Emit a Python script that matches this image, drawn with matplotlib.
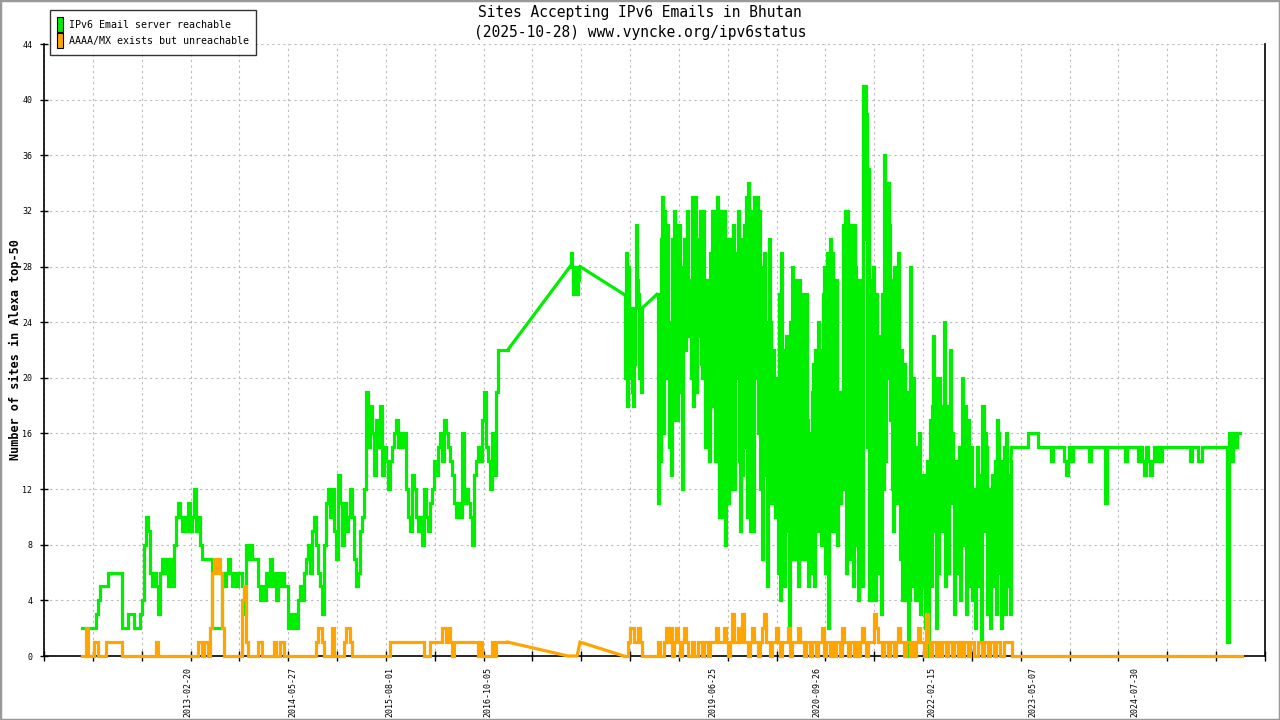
import numpy as np
import matplotlib
matplotlib.use("Agg")
import matplotlib.pyplot as plt
import matplotlib.dates as mdates
from matplotlib.patches import Patch, Rectangle

MONO = "DejaVu Sans Mono"
GREEN = "#00ee00"
ORANGE = "#ffa500"

# ---------------- data ----------------
# Green: "IPv6 Email server reachable" -- noisy segments, evenly sampled between start/end dates
g1_range = ("2011-11-10", "2016-12-31")
g1_vals = [2,2,2,2,2,2,2,3,4,5, 5,5,5,6,6,6,6,6,6,6, 2,2,2,3,3,3,2,2,2,3,
           4,8,10,9,6,5,6,5,3,6, 7,6,7,5,7,5,8,10,11,10, 9,10,9,11,9,10,12,9,10,8,
           7,7,7,7,7,2,2,2,2,2, 6,5,6,7,6,5,6,5,6,6, 5,3,8,7,8,7,7,7,5,4,
           5,4,6,5,7,5,6,4,6,5, 6,5,5,2,3,2,3,2,4,5, 4,6,7,8,6,9,10,8,6,5,
           3,8,11,12,10,12,9,7,13,11, 8,11,9,10,12,10,7,5,6,9, 10,12,19,15,18,16,13,17,15,18,
           13,15,14,12,14,15,16,17,15,16, 15,16,12,10,9,13,12,10,9,10, 8,12,10,9,11,12,14,13,15,16,
           14,17,16,15,14,13,11,10,11,10, 16,11,12,11,10,8,13,14,15,14, 17,19,15,14,12,16,13,19,22,22,
           22,22,22,22]
g2_range = ("2017-10-02", "2017-11-15")
g2_vals = [28,29,28,26,27,28,28,26,27,28,28]
g3_range = ("2018-05-28", "2018-08-15")
g3_vals = [26,20,29,18,28,25,20,25,19,18,21,25,31,27,26,20,25,19,25]
g4_range = ("2018-10-20", "2023-01-28")
g4_vals = [26,11,22,14,30,33,16,32,20,29, 31,20,15,24,13,30,21,32,17,31,
           17,24,31,19,24,12,28,30,22,30, 32,25,23,27,20,33,18,26,33,19,
           30,23,27,32,21,20,32,24,15,27, 16,27,14,29,18,32,18,29,14,32,
           33,27,10,22,32,10,27,32,8,28, 30,11,29,12,30,20,31,12,29,20,
           26,32,14,9,30,13,24,31,15,33, 10,34,22,9,32,17,9,33,20,24,
           33,16,32,12,28,7,25,29,13,24, 5,16,30,24,11,14,22,18,10,20,
           15,6,26,4,29,18,22,5,14,23, 9,20,1,24,7,28,12,7,27,14,
           22,5,27,20,7,26,24,11,7,26, 17,5,16,6,14,19,21,5,22,9,
           21,24,9,22,8,21,26,28,6,20, 29,2,16,30,9,29,26,9,19,27,
           8,18,19,11,17,19,31,12,32,6, 32,27,7,22,31,17,5,31,28,8,
           27,4,22,14,27,5,41,30,41,39, 15,35,4,27,4,20,28,16,4,26,
           18,6,23,9,3,26,12,36,14,34, 20,34,31,17,27,12,9,28,20,11,
           21,29,17,7,22,4,16,21,4,12, 19,0,4,28,5,18,20,11,4,15,
           4,12,16,3,6,13,5,13,2,13, 14,0,6,17,5,18,23,9,20,2,
           20,6,20,14,18,9,14,24,5,13, 18,6,12,22,11,16,14,3,12,14,
           6,11,15,4,13,20,8,16,18,3, 12,17,5,14,15,4,12,12,2,11,
           15,5,12,13,1,18,18,9,16,15, 3,12,12,2,9,13,5,11,14,3,
           17,16,6,14,2,12,8,15,3,16, 11,5,13,3,14]
# Green: change points after 2023 (step values)
g5_dates = ["2023-02-01","2023-04-12","2023-05-26","2023-07-23","2023-08-01","2023-09-18",
            "2023-09-27","2023-10-06","2023-10-10","2023-10-19","2023-10-28","2024-01-07",
            "2024-01-15","2024-03-17","2024-03-26","2024-06-13","2024-06-22","2024-08-10",
            "2024-08-18","2024-08-27","2024-09-05","2024-09-14","2024-09-23","2024-10-02",
            "2024-10-10","2024-10-19","2024-10-28","2024-11-06","2024-11-15","2024-11-23",
            "2025-03-27","2025-04-05","2025-05-01","2025-05-19","2025-09-06","2025-09-15",
            "2025-09-24","2025-10-03","2025-10-11","2025-10-20","2025-11-02"]
g5_vals = [15,16,15,14,15,14, 13,14,15,14,15,14, 15,11,15,14,15,14, 15,14,13,15,14,13,
           14,15,14,15,14,15, 14,15,14,15,1,16, 14,16,15,16,16]

# Orange: "AAAA/MX exists but unreachable"
o1_range = ("2011-11-10", "2016-12-31")
o1_vals = [0,0,2,0,0,0,1,1,0,0, 0,0,1,1,1,1,1,1,1,1, 0,0,0,0,0,0,0,0,0,0,
           0,0,0,0,0,0,0,1,0,0, 0,0,0,0,0,0,0,0,0,0, 0,0,0,0,0,0,0,0,1,1,
           0,1,1,0,2,6,7,6,7,6, 2,0,0,0,0,0,0,0,0,0, 4,5,1,0,0,0,0,0,1,1,
           0,0,0,0,0,0,1,0,0,1, 1,0,0,0,0,0,0,0,0,0, 0,0,0,0,0,0,0,1,2,2,
           1,0,0,0,0,2,0,0,0,0, 0,1,2,2,1,0,0,0,0,0, 0,0,0,0,0,0,0,0,0,0,
           0,0,0,0,1,1,1,1,1,1, 1,1,1,1,1,1,1,1,1,1, 1,0,0,0,1,1,1,1,1,1,
           2,2,1,2,1,0,1,1,1,1, 1,1,1,1,1,1,1,1,0,1, 0,0,0,0,0,1,0,1,1,1,
           1,1,1,1]
o_gap_dates = ["2016-12-31","2017-09-23","2017-11-02","2017-11-15","2018-05-28"]
o_gap_vals = [1,0,0,1,0]
o2_range = ("2018-05-28", "2023-02-01")
o2_vals = [0,0,1,2,2,1,1,2,1,0, 0,0,0,0,0,0,0,1,0,0, 1,2,1,2,0,1,2,1,0,1,
           2,1,0,0,1,0,0,1,1,0, 1,1,0,1,1,1,2,1,1,1, 2,1,0,1,3,1,1,2,1,3,
           1,1,0,1,2,1,1,0,1,2, 3,1,1,0,1,1,2,1,0,1, 1,1,2,0,1,1,1,2,1,1,
           0,1,1,0,1,1,0,1,1,2, 0,1,1,0,1,0,1,1,0,2, 1,1,0,1,1,0,1,0,1,2,
           1,0,1,1,1,3,2,1,1,0, 1,1,0,1,1,0,1,2,1,1, 0,1,1,0,1,0,1,2,1,1,
           0,3,1,0,1,1,0,1,0,1, 1,0,1,1,0,1,1,0,1,0, 1,1,0,1,1,0,0,1,1,0,
           1,1,0,1,1,0,1,1,0,0, 1,1,1,1,0]
o3_dates = ["2023-02-01", "2025-11-11"]
o3_vals = [0, 0]

x_label_dates = ["2013-02-20","2014-05-27","2015-08-01","2016-10-05","2019-06-25",
                 "2020-09-26","2022-02-15","2023-05-07","2024-07-30"]
x_limits = ("2011-05-27", "2026-02-22")

title_lines = ["Sites Accepting IPv6 Emails in Bhutan",
               "(2025-10-28) www.vyncke.org/ipv6status"]
y_label = "Number of sites in Alexa top-50"
legend_labels = ["IPv6 Email server reachable", "AAAA/MX exists but unreachable"]

# ---------------- helpers ----------------
d2n = mdates.datestr2num

def seg(rng, vals):
    return np.linspace(d2n(rng[0]), d2n(rng[1]), len(vals)), np.asarray(vals, float)

fig = plt.figure(figsize=(12.8, 7.2), dpi=100)
fig.patch.set_facecolor("white")
ax = fig.add_axes([44/1280, 64/720, (1265-44)/1280, (656-44)/720])

LW = 2.3
common = dict(lw=LW, clip_on=False, solid_joinstyle="miter")
# green segments
gsegs = [seg(g1_range, g1_vals), seg(g2_range, g2_vals), seg(g3_range, g3_vals),
         seg(g4_range, g4_vals),
         (np.array([d2n(d) for d in g5_dates]), np.asarray(g5_vals, float))]
for i, (x, y) in enumerate(gsegs):
    ax.plot(x, y, color=GREEN, drawstyle="steps-post", zorder=3, **common)
    if i + 1 < len(gsegs):
        nx, ny = gsegs[i + 1]
        ax.plot([x[-1], nx[0]], [y[-1], ny[0]], color=GREEN, zorder=3, **common)

# orange
ox1, oy1 = seg(o1_range, o1_vals)
ox2, oy2 = seg(o2_range, o2_vals)
ax.plot(ox1, oy1, color=ORANGE, drawstyle="steps-post", zorder=4, **common)
ax.plot([d2n(d) for d in o_gap_dates], o_gap_vals, color=ORANGE, zorder=4, **common)
ax.plot(ox2, oy2, color=ORANGE, drawstyle="steps-post", zorder=4, **common)
ax.plot([d2n(d) for d in o3_dates], o3_vals, color=ORANGE, zorder=4, **common)

# axes
x0, x1 = d2n(x_limits[0]), d2n(x_limits[1])
ax.set_xlim(x0, x1)
ax.set_ylim(0, 44)
ax.set_xticks(np.linspace(x0, x1, 26))
ax.set_xticklabels([])
ax.set_xticks([d2n(d) for d in x_label_dates], minor=True)
ax.set_xticklabels(x_label_dates, minor=True, rotation=90, fontsize=6,
                   family=MONO, va="top", ha="center")
ax.set_yticks(np.arange(0, 45, 4))
ax.set_yticklabels([str(v) for v in range(0, 45, 4)], fontsize=6, family=MONO)
ax.tick_params(axis="x", which="major", direction="inout", length=6.5, width=1,
               color="black")
ax.tick_params(axis="x", which="minor", length=0, pad=8)
ax.tick_params(axis="y", which="major", direction="inout", length=6, width=1,
               pad=5.5)

ax.grid(True, which="major", color="#bbbbbb", lw=0.8, linestyle=(0, (2, 3)))
ax.set_axisbelow(True)
for s in ["left", "bottom", "right"]:
    ax.spines[s].set_color("black")
    ax.spines[s].set_linewidth(1.2)
    ax.spines[s].set_zorder(2)
ax.spines["top"].set_visible(False)

ax.set_ylabel(y_label, family=MONO, fontweight="bold", fontsize=8.5)
ax.yaxis.set_label_coords(-22/1221, 0.5)

# title
fig.text(640/1280, 1 - 13/720, title_lines[0], ha="center", va="center",
         family=MONO, fontsize=10.5)
fig.text(640/1280, 1 - 32/720, title_lines[1], ha="center", va="center",
         family=MONO, fontsize=10.5)

# legend
handles = [Patch(facecolor=GREEN, edgecolor="black", lw=0.8),
           Patch(facecolor=ORANGE, edgecolor="black", lw=0.8)]
leg = fig.legend(handles, legend_labels, loc="upper left",
                 bbox_to_anchor=(50/1280, 1 - 10/720), frameon=True,
                 prop={"family": MONO, "size": 7.2}, handlelength=0.6,
                 handleheight=1.9, handletextpad=0.6, labelspacing=0.15,
                 borderpad=0.7, borderaxespad=0, fancybox=False)
leg.get_frame().set_edgecolor("black")
leg.get_frame().set_linewidth(1)

# figure border
fig.patches.append(Rectangle((0, 0), 1, 1, transform=fig.transFigure, fill=False,
                             edgecolor="#999999", lw=2.5, zorder=10))

fig.savefig("out.png", dpi=100, facecolor="white")
